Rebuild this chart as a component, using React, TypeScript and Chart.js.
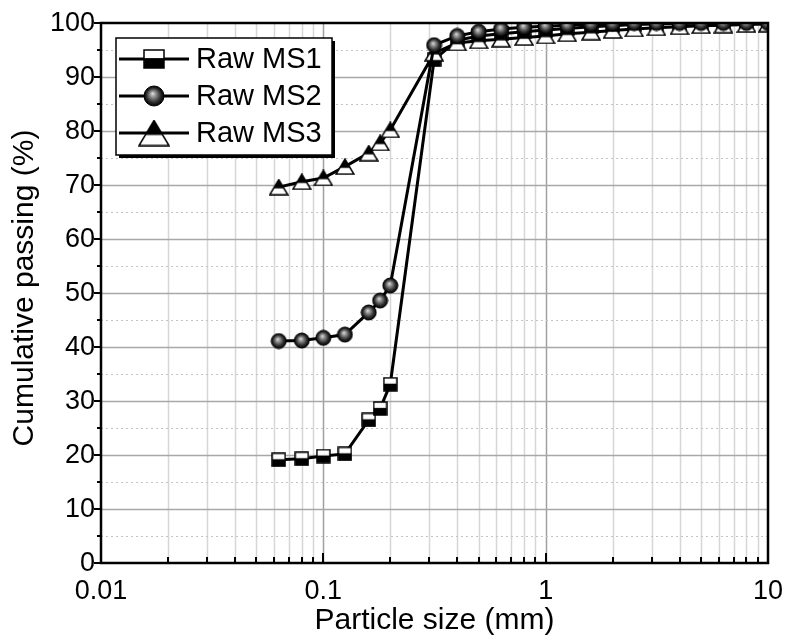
import React, { useEffect, useRef } from 'react';
import { Chart, registerables } from 'chart.js';
Chart.register(...registerables);

const sizes = [0.063, 0.08, 0.1, 0.125, 0.16, 0.18, 0.2, 0.315, 0.4, 0.5, 0.63, 0.8, 1, 1.25, 1.6, 2, 2.5, 3.15, 4, 5, 6.3, 8, 10];
const ms1 = [19.1, 19.3, 19.8, 20.2, 26.5, 28.6, 33.1, 93.2, 96.8, 97.6, 98.0, 98.4, 98.7, 99.0, 99.3, 99.5, 99.7, 99.8, 99.9, 100, 100, 100, 100];
const ms2 = [41.1, 41.2, 41.7, 42.3, 46.4, 48.6, 51.4, 95.9, 97.6, 98.4, 98.9, 99.2, 99.4, 99.6, 99.8, 99.9, 100, 100, 100, 100, 100, 100, 100];
const ms3 = [69.6, 70.6, 71.3, 73.4, 75.9, 77.8, 80.2, 94.4, 96.3, 96.7, 97.0, 97.3, 97.6, 98.0, 98.3, 98.6, 98.9, 99.1, 99.3, 99.5, 99.6, 99.7, 99.8];
const seriesNames = ['Raw MS1', 'Raw MS2', 'Raw MS3'];
const xTickValues = [0.01, 0.1, 1, 10];
const xTickLabels = ['0.01', '0.1', '1', '10'];
const yTickValues = [0, 10, 20, 30, 40, 50, 60, 70, 80, 90, 100];
const xTitle = 'Particle size (mm)';
const yTitle = 'Cumulative passing (%)';

const FONT = '"Liberation Sans", Arial, Helvetica, sans-serif';

function makeSquare(w: number, h: number) {
  const c = document.createElement('canvas');
  c.width = w + 2; c.height = h + 2;
  const g = c.getContext('2d')!;
  g.fillStyle = '#fff';
  g.fillRect(1, 1, w, h);
  g.fillStyle = '#000';
  g.fillRect(1, 1 + h * 0.45, w, h * 0.55);
  g.strokeStyle = '#000';
  g.lineWidth = 1.5;
  g.strokeRect(1, 1, w, h);
  return c;
}

function makeSphere(d: number) {
  const c = document.createElement('canvas');
  c.width = d + 2; c.height = d + 2;
  const g = c.getContext('2d')!;
  const r = d / 2;
  const cx = r + 1, cy = r + 1;
  const grad = g.createRadialGradient(cx - r * 0.15, cy - r * 0.25, 0, cx, cy, r);
  grad.addColorStop(0, '#e0e0e0');
  grad.addColorStop(0.3, '#909090');
  grad.addColorStop(0.7, '#303030');
  grad.addColorStop(1, '#000');
  g.beginPath();
  g.arc(cx, cy, r, 0, Math.PI * 2);
  g.fillStyle = grad;
  g.fill();
  g.lineWidth = 1;
  g.strokeStyle = '#000';
  g.stroke();
  return c;
}

function makeTriangle(w: number, h: number) {
  const c = document.createElement('canvas');
  c.width = w + 2; c.height = h + 2;
  const g = c.getContext('2d')!;
  const path = () => {
    g.beginPath();
    g.moveTo(1 + w / 2, 1);
    g.lineTo(1 + w, 1 + h);
    g.lineTo(1, 1 + h);
    g.closePath();
  };
  g.save();
  path();
  g.clip();
  g.fillStyle = '#fff';
  g.fillRect(0, 0, w + 2, h + 2);
  g.fillStyle = '#000';
  g.fillRect(0, 0, w + 2, 1 + h * 0.58);
  g.restore();
  path();
  g.lineWidth = 1.5;
  g.strokeStyle = '#000';
  g.lineJoin = 'miter';
  g.stroke();
  return c;
}

export default function App() {
  const ref = useRef<HTMLCanvasElement>(null);
  useEffect(() => {
    const canvas = ref.current!;
    const markers = [makeSquare(13, 13), makeSphere(15), makeTriangle(18, 15)];
    const legendMarkers = [makeSquare(20, 18), makeSphere(20), makeTriangle(30, 25)];
    const seriesData = [ms1, ms2, ms3];

    const framePlugin = {
      id: 'originFrame',
      beforeDatasetsDraw(chart: any) {
        const { ctx, chartArea: a, scales } = chart;
        const xs = scales.x, ys = scales.y;
        ctx.save();
        for (let d = 0.01; d < 10; d *= 10) {
          for (let m = 1; m <= 9; m++) {
            const v = m * d;
            if (v <= 0.0100001) continue;
            const px = Math.round(xs.getPixelForValue(v)) + 0.5;
            const major = m === 1;
            ctx.strokeStyle = major ? '#a0a0a0' : '#d6d6d6';
            ctx.lineWidth = 1.5;
            ctx.setLineDash([]);
            ctx.beginPath();
            ctx.moveTo(px, a.top);
            ctx.lineTo(px, a.bottom);
            ctx.stroke();
          }
        }
        for (let v = 5; v < 100; v += 5) {
          const py = Math.round(ys.getPixelForValue(v)) + 0.5;
          if (v % 10 === 0) {
            ctx.strokeStyle = '#a8a8a8';
            ctx.lineWidth = 1.5;
            ctx.setLineDash([]);
          } else {
            ctx.strokeStyle = '#c4c4c4';
            ctx.lineWidth = 1;
            ctx.setLineDash([2, 3]);
          }
          ctx.beginPath();
          ctx.moveTo(a.left, py);
          ctx.lineTo(a.right, py);
          ctx.stroke();
        }
        ctx.restore();
      },
      afterDatasetsDraw(chart: any) {
        const { ctx, chartArea: a, scales } = chart;
        const xs = scales.x, ys = scales.y;
        ctx.save();
        ctx.setLineDash([]);
        ctx.strokeStyle = '#000';
        ctx.lineWidth = 2.5;
        ctx.strokeRect(a.left, a.top, a.right - a.left, a.bottom - a.top);
        ctx.lineWidth = 2;
        for (let d = 0.01; d < 10; d *= 10) {
          for (let m = 1; m <= 9; m++) {
            const v = m * d;
            const px = Math.round(xs.getPixelForValue(v));
            const len = m === 1 ? 10 : 6;
            ctx.beginPath();
            ctx.moveTo(px, a.bottom);
            ctx.lineTo(px, a.bottom - len);
            ctx.stroke();
          }
        }
        for (let v = 0; v <= 100; v += 5) {
          const py = Math.round(ys.getPixelForValue(v));
          const len = v % 10 === 0 ? 7 : 4;
          ctx.beginPath();
          ctx.moveTo(a.left, py);
          ctx.lineTo(a.left - len, py);
          ctx.stroke();
        }
        ctx.restore();
      },
      afterDraw(chart: any) {
        const { ctx, chartArea: a, scales } = chart;
        const xs = scales.x, ys = scales.y;
        ctx.save();
        ctx.fillStyle = '#000';
        ctx.font = `27px ${FONT}`;
        ctx.textAlign = 'center';
        ctx.textBaseline = 'middle';
        xTickValues.forEach((v, i) => {
          const px = xs.getPixelForValue(v);
          ctx.fillText(xTickLabels[i], px, a.bottom + 29);
        });
        ctx.textAlign = 'right';
        yTickValues.forEach((v) => {
          ctx.fillText(String(v), a.left - 6, ys.getPixelForValue(v) + 1);
        });
        ctx.font = `30px ${FONT}`;
        ctx.textAlign = 'center';
        ctx.fillText(xTitle, (a.left + a.right) / 2, 621);
        ctx.save();
        ctx.translate(25, 288);
        ctx.rotate(-Math.PI / 2);
        ctx.fillText(yTitle, 0, 0);
        ctx.restore();

        const bx = 116, by = 38, bw = 216, bh = 117;
        ctx.fillStyle = '#000';
        ctx.fillRect(bx + 3, by + 3, bw, bh);
        ctx.fillStyle = '#fff';
        ctx.fillRect(bx, by, bw, bh);
        ctx.strokeStyle = '#000';
        ctx.lineWidth = 1.5;
        ctx.strokeRect(bx, by, bw, bh);
        const rows = [59, 96, 133];
        ctx.font = `29px ${FONT}`;
        ctx.textAlign = 'left';
        ctx.textBaseline = 'middle';
        rows.forEach((ry, i) => {
          ctx.lineWidth = 3;
          ctx.beginPath();
          ctx.moveTo(119, ry);
          ctx.lineTo(189, ry);
          ctx.stroke();
          const m = legendMarkers[i];
          ctx.drawImage(m, 154 - m.width / 2, ry - m.height / 2);
          ctx.fillStyle = '#000';
          ctx.fillText(seriesNames[i], 196, ry + 1);
        });
        ctx.restore();
      },
    };

    const chart = new Chart(canvas, {
      type: 'line',
      data: {
        datasets: seriesData.map((arr, i) => ({
          label: seriesNames[i],
          data: sizes.map((s, j) => ({ x: s, y: arr[j] })),
          borderColor: '#000',
          backgroundColor: '#000',
          borderWidth: 3,
          pointStyle: markers[i] as any,
          pointRadius: 7,
          fill: false,
          tension: 0,
          order: i === 0 ? 3 : i === 2 ? 2 : 1,
        })),
      },
      options: {
        responsive: false,
        animation: false,
        devicePixelRatio: 1,
        layout: { padding: { left: 0, top: 23, right: 18, bottom: 0 } },
        plugins: { legend: { display: false }, tooltip: { enabled: false } },
        scales: {
          x: {
            type: 'logarithmic', min: 0.01, max: 10,
            grid: { display: false }, border: { display: false }, ticks: { display: false },
            afterFit(s: any) { s.height = 76; },
          },
          y: {
            type: 'linear', min: 0, max: 100,
            grid: { display: false }, border: { display: false }, ticks: { display: false },
            afterFit(s: any) { s.width = 101; },
          },
        },
      } as any,
      plugins: [framePlugin],
    });
    return () => chart.destroy();
  }, []);
  return (
    <div style={{ position: 'fixed', left: 0, top: 0, width: 786, height: 639, background: '#fff' }}>
      <canvas ref={ref} width={786} height={639} style={{ display: 'block' }} />
    </div>
  );
}
